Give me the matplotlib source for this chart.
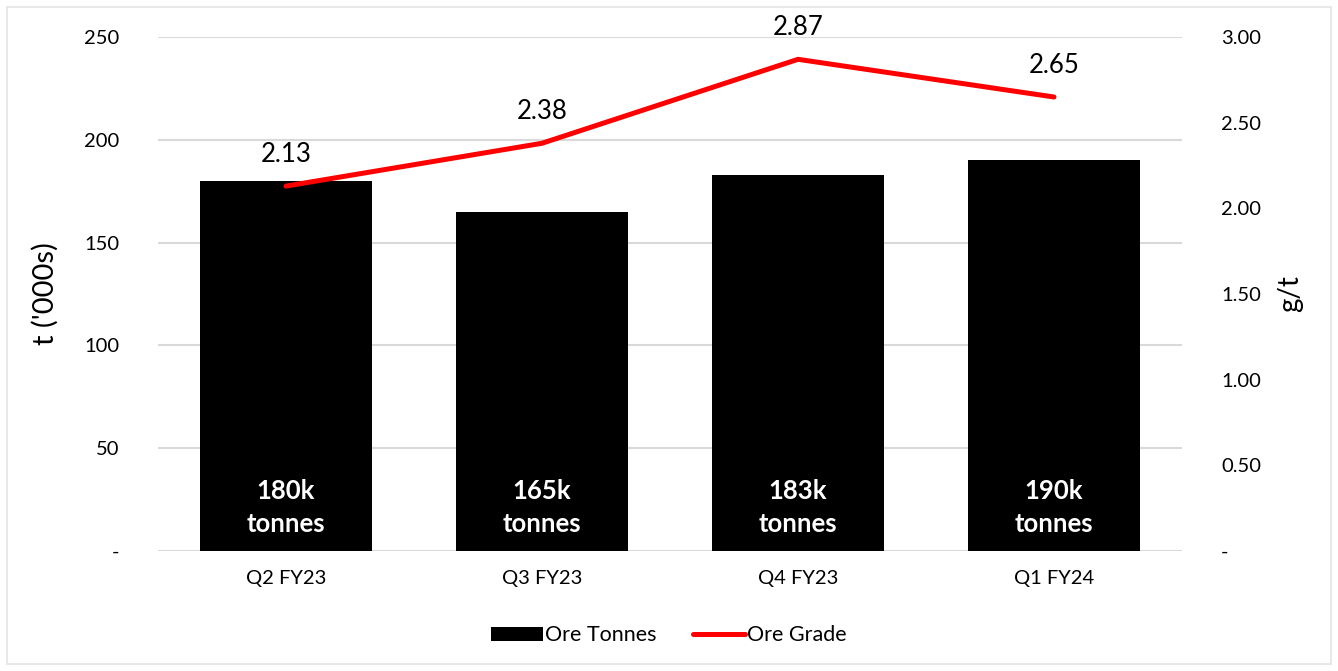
import matplotlib.pyplot as plt
from matplotlib.patches import Rectangle
from matplotlib.lines import Line2D

plt.rcParams['font.family'] = ['Lato', 'DejaVu Sans']

quarters = ['Q2 FY23', 'Q3 FY23', 'Q4 FY23', 'Q1 FY24']
ore_tonnes = [180, 165, 183, 190]
ore_grade = [2.13, 2.38, 2.87, 2.65]
bar_labels = ['180k\ntonnes', '165k\ntonnes', '183k\ntonnes', '190k\ntonnes']

left_ticks = [0, 50, 100, 150, 200, 250]
left_ticklabels = ['-', '50', '100', '150', '200', '250']
right_ticks = [0, 0.5, 1.0, 1.5, 2.0, 2.5, 3.0]
right_ticklabels = ['-', '0.50', '1.00', '1.50', '2.00', '2.50', '3.00']

fig = plt.figure(figsize=(13.38, 6.71), dpi=100)
ax = fig.add_axes([0.1181, 0.1788, 0.7653, 0.766])
ax2 = ax.twinx()

x = range(len(quarters))
ax.bar(x, ore_tonnes, width=0.67, color='black', zorder=2)
ax.set_xlim(-0.5, len(quarters) - 0.5)
ax.set_ylim(0, 250)
ax.set_yticks(left_ticks)
ax.set_yticklabels(left_ticklabels, fontsize=14.5)
ax.set_xticks(list(x))
ax.set_xticklabels(quarters, fontsize=14.5)
ax.tick_params(axis='both', length=0)
ax.tick_params(axis='y', pad=28)
ax.tick_params(axis='x', pad=14)
ax.grid(axis='y', color='#d9d9d9', linewidth=1.5, zorder=0)
ax.set_axisbelow(True)
for s in ax.spines.values():
    s.set_visible(False)
ax.set_ylabel("t ('000s)", fontsize=21, labelpad=18)

for i, lab in enumerate(bar_labels):
    ax.annotate(lab, (i, 0), xytext=(0, 31), textcoords='offset points',
                ha='center', va='center', color='white', fontsize=18.5,
                fontweight='bold', linespacing=1.45, zorder=3)

ax2.plot(list(x), ore_grade, color='#ff0000', linewidth=3.6, solid_capstyle='round', zorder=4)
ax2.set_ylim(0, 3.0)
ax2.set_yticks(right_ticks)
ax2.set_yticklabels(right_ticklabels, fontsize=14.5)
ax2.tick_params(axis='y', length=0, pad=28)
for s in ax2.spines.values():
    s.set_visible(False)
ax2.set_ylabel('g/t', fontsize=20, labelpad=12)

for i, v in enumerate(ore_grade):
    ax2.annotate(f'{v:.2f}', (i, v), xytext=(0, 23), textcoords='offset points',
                 ha='center', va='center', fontsize=18.5)

handles = [Rectangle((0, 0), 1, 1, facecolor='black'),
           Line2D([0], [0], color='#ff0000', linewidth=3.6, solid_capstyle='round')]
fig.legend(handles, ['Ore Tonnes', 'Ore Grade'], loc='center', bbox_to_anchor=(0.5, 0.053),
           ncol=2, frameon=False, fontsize=15.5, handlelength=2.4, handleheight=0.65,
           handletextpad=0.1, columnspacing=1.7)

fig.patches.append(Rectangle((7 / 1338, 7 / 671), 1 - 14 / 1338, 1 - 14 / 671,
                             transform=fig.transFigure, fill=False,
                             edgecolor='#e8e8e8', linewidth=1.5))

fig.savefig('out.png', dpi=100)
